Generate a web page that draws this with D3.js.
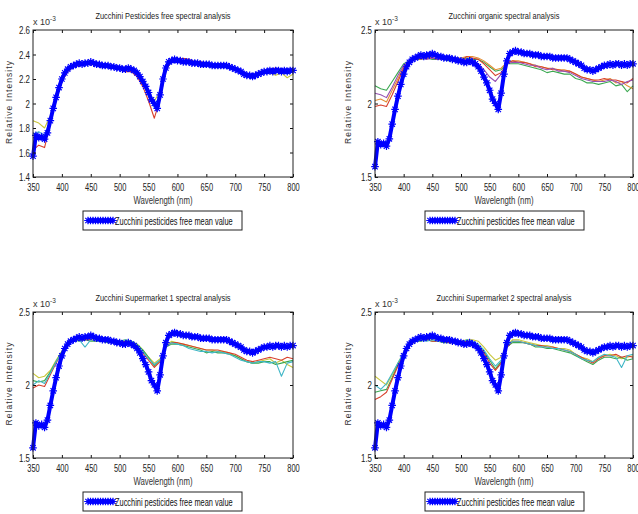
<!DOCTYPE html>
<html>
<head>
<meta charset="utf-8">
<script src="https://cdn.jsdelivr.net/npm/d3@7"></script>
<style>
body { margin: 0; background: #fff; }
svg { display: block; font-family: "Liberation Sans", Arial, sans-serif; }
</style>
</head>
<body>
<svg id="chart"></svg>
<script>
// ---- data (intensity in units of 1e-3) ----

// mean curve of the pesticides free samples (blue, every 5 nm)
var meanWl = [350,355,360,365,370,375,380,385,390,395,400,405,410,415,420,425,430,435,440,445,
              450,455,460,465,470,475,480,485,490,495,500,505,510,515,520,525,530,535,540,545,
              550,555,560,565,570,575,580,585,590,595,600,605,610,615,620,625,630,635,640,645,
              650,655,660,665,670,675,680,685,690,695,700,705,710,715,720,725,730,735,740,745,
              750,755,760,765,770,775,780,785,790,795,800];
var meanVal = [1.57,1.74,1.72,1.73,1.71,1.76,1.86,1.96,2.05,2.13,
               2.20,2.25,2.28,2.30,2.31,2.32,2.33,2.32,2.33,2.33,
               2.34,2.33,2.32,2.32,2.31,2.31,2.31,2.30,2.30,2.29,
               2.29,2.28,2.28,2.29,2.28,2.27,2.25,2.22,2.18,2.14,
               2.09,2.03,2.00,1.96,2.07,2.20,2.29,2.34,2.35,2.36,
               2.35,2.35,2.34,2.34,2.34,2.33,2.33,2.33,2.32,2.32,
               2.32,2.32,2.31,2.31,2.31,2.31,2.31,2.31,2.30,2.29,
               2.28,2.27,2.26,2.24,2.23,2.23,2.22,2.23,2.24,2.25,
               2.26,2.26,2.27,2.26,2.27,2.27,2.26,2.27,2.26,2.27,
               2.27];

// individual sample spectra (every 10 nm)
var sampleWl = [350,360,370,380,390,400,410,420,430,440,450,460,470,480,490,500,510,520,530,540,
                550,560,570,580,590,600,610,620,630,640,650,660,670,680,690,700,710,720,730,740,
                750,760,770,780,790,800];

// pesticides free
var p1Red = [1.62,1.66,1.64,1.84,2.03,2.18,2.26,2.30,2.31,2.32,2.32,2.31,2.30,2.30,2.29,2.28,2.26,2.26,2.22,2.14,
             2.02,1.88,2.04,2.27,2.35,2.36,2.37,2.36,2.34,2.34,2.33,2.32,2.32,2.32,2.31,2.29,2.27,2.24,2.23,2.25,
             2.27,2.28,2.29,2.26,2.28,2.25];
var p1Yellow = [1.86,1.84,1.80,1.90,2.07,2.21,2.28,2.31,2.31,2.32,2.33,2.31,2.30,2.31,2.30,2.28,2.28,2.28,2.25,2.18,
                2.09,2.02,2.10,2.28,2.34,2.34,2.35,2.33,2.33,2.32,2.32,2.31,2.31,2.31,2.30,2.28,2.25,2.23,2.22,2.24,
                2.26,2.25,2.23,2.25,2.21,2.24];
var p1Cyan = [1.75,1.77,1.74,1.87,2.05,2.20,2.27,2.30,2.32,2.31,2.33,2.32,2.31,2.30,2.30,2.29,2.27,2.28,2.24,2.17,
              2.06,1.97,2.08,2.28,2.34,2.35,2.34,2.34,2.33,2.33,2.31,2.32,2.30,2.31,2.30,2.28,2.26,2.22,2.23,2.24,
              2.25,2.27,2.25,2.27,2.24,2.26];

// organic
var p2Green = [2.12,2.10,2.09,2.15,2.21,2.27,2.29,2.30,2.30,2.31,2.30,2.30,2.30,2.29,2.30,2.30,2.31,2.30,2.30,2.28,
               2.25,2.22,2.23,2.27,2.27,2.27,2.26,2.25,2.24,2.23,2.21,2.22,2.21,2.20,2.20,2.17,2.16,2.14,2.14,2.13,
               2.14,2.15,2.12,2.13,2.08,2.12];
var p2Red = [1.98,1.99,1.98,2.06,2.15,2.24,2.28,2.30,2.31,2.31,2.31,2.30,2.31,2.30,2.30,2.29,2.32,2.31,2.30,2.27,
             2.23,2.19,2.21,2.27,2.29,2.28,2.28,2.27,2.25,2.25,2.24,2.23,2.23,2.22,2.22,2.20,2.18,2.17,2.16,2.16,
             2.17,2.16,2.16,2.15,2.14,2.17];
var p2Orange = [2.02,2.03,2.01,2.09,2.17,2.25,2.29,2.31,2.30,2.32,2.31,2.31,2.31,2.31,2.31,2.31,2.32,2.32,2.31,2.29,
                2.26,2.23,2.24,2.28,2.29,2.29,2.28,2.27,2.26,2.25,2.24,2.24,2.23,2.23,2.22,2.20,2.18,2.17,2.16,2.15,
                2.16,2.17,2.14,2.15,2.12,2.10];
var p2Purple = [2.07,2.06,2.04,2.11,2.19,2.26,2.29,2.31,2.31,2.30,2.31,2.30,2.30,2.30,2.29,2.29,2.30,2.29,2.27,2.23,
                2.18,2.15,2.20,2.27,2.28,2.28,2.27,2.26,2.26,2.24,2.23,2.24,2.22,2.22,2.21,2.19,2.17,2.16,2.15,2.15,
                2.15,2.16,2.15,2.13,2.15,2.16];

// supermarket 1
var p3Yellow = [2.08,2.05,2.06,2.10,2.17,2.23,2.29,2.32,2.31,2.32,2.31,2.31,2.31,2.30,2.30,2.30,2.31,2.30,2.28,2.24,
                2.19,2.15,2.18,2.27,2.30,2.29,2.28,2.27,2.26,2.25,2.24,2.24,2.23,2.23,2.22,2.20,2.18,2.16,2.15,2.16,
                2.17,2.18,2.15,2.17,2.14,2.12];
var p3Red = [1.98,2.00,1.99,2.07,2.15,2.22,2.28,2.31,2.31,2.31,2.31,2.30,2.30,2.30,2.29,2.29,2.30,2.29,2.27,2.22,
             2.17,2.12,2.16,2.26,2.29,2.29,2.28,2.27,2.26,2.25,2.24,2.24,2.24,2.23,2.22,2.21,2.19,2.17,2.16,2.17,
             2.18,2.19,2.18,2.17,2.19,2.18];
var p3Green = [2.03,2.02,2.03,2.09,2.16,2.23,2.28,2.31,2.30,2.31,2.30,2.30,2.30,2.29,2.30,2.29,2.30,2.30,2.28,2.24,
               2.19,2.13,2.17,2.26,2.28,2.28,2.27,2.26,2.25,2.24,2.22,2.23,2.22,2.22,2.21,2.20,2.18,2.16,2.15,2.15,
               2.16,2.16,2.14,2.15,2.16,2.17];
var p3Cyan = [2.00,2.03,2.01,2.08,2.16,2.22,2.28,2.31,2.31,2.26,2.31,2.30,2.30,2.30,2.29,2.30,2.31,2.30,2.27,2.23,
              2.18,2.14,2.17,2.26,2.29,2.28,2.27,2.25,2.24,2.23,2.23,2.22,2.23,2.22,2.21,2.19,2.17,2.16,2.15,2.16,
              2.16,2.15,2.16,2.06,2.15,2.16];

// supermarket 2
var p4Yellow = [2.06,2.03,2.00,2.07,2.15,2.22,2.28,2.31,2.31,2.31,2.31,2.31,2.30,2.30,2.30,2.30,2.31,2.31,2.30,2.26,
                2.21,2.17,2.19,2.27,2.31,2.31,2.30,2.29,2.28,2.27,2.27,2.26,2.25,2.25,2.24,2.21,2.19,2.18,2.16,2.19,
                2.20,2.21,2.20,2.18,2.19,2.20];
var p4Red = [1.90,1.92,1.95,2.04,2.13,2.21,2.27,2.30,2.31,2.31,2.30,2.30,2.30,2.29,2.29,2.29,2.30,2.29,2.27,2.22,
             2.15,2.10,2.15,2.26,2.30,2.30,2.29,2.28,2.27,2.27,2.26,2.26,2.25,2.24,2.23,2.21,2.19,2.17,2.15,2.18,
             2.20,2.20,2.21,2.19,2.20,2.19];
var p4Cyan = [2.00,1.97,2.01,2.08,2.15,2.22,2.28,2.30,2.31,2.30,2.31,2.30,2.30,2.30,2.29,2.29,2.31,2.30,2.28,2.24,
              2.18,2.13,2.17,2.27,2.30,2.30,2.29,2.28,2.27,2.26,2.26,2.25,2.25,2.24,2.23,2.21,2.18,2.17,2.16,2.19,
              2.21,2.20,2.19,2.12,2.20,2.21];
var p4Green = [1.95,1.96,1.97,2.05,2.14,2.21,2.27,2.30,2.30,2.31,2.30,2.30,2.29,2.29,2.29,2.28,2.29,2.29,2.27,2.23,
               2.17,2.11,2.16,2.26,2.29,2.29,2.29,2.28,2.26,2.26,2.25,2.25,2.24,2.23,2.22,2.20,2.18,2.16,2.14,2.17,
               2.19,2.19,2.18,2.19,2.17,2.18];

var titles = ["Zucchini Pesticides free spectral analysis",
              "Zucchini organic spectral analysis",
              "Zucchini Supermarket 1 spectral analysis",
              "Zucchini Supermarket 2 spectral analysis"];
var legendLabel = "Zucchini pesticides free mean value";
var xTicks = [350,400,450,500,550,600,650,700,750,800];
var yTicksFine = [1.4,1.6,1.8,2,2.2,2.4,2.6];
var yTicksCoarse = [1.5,2,2.5];

// ---- layout ----
var w = 638,
    h = 514;

var svg = d3.select("#chart")
    .attr("width", w)
    .attr("height", h);

var red = "#d8402c", yellow = "#c9c63c", cyan = "#3fb6c6",
    green = "#3aa850", orange = "#e38f35", purple = "#9650b0",
    blue = "#0000ff";

var panels = [
    { l: 33,  r: 293, t: 30,  b: 177, ylab: 12,  yDom: [1.4, 2.6], yTicks: yTicksFine,
      title: titles[0], lines: [p1Yellow, p1Cyan, p1Red], colors: [yellow, cyan, red] },
    { l: 375, r: 633, t: 30,  b: 177, ylab: 351, yDom: [1.5, 2.5], yTicks: yTicksCoarse,
      title: titles[1], lines: [p2Green, p2Orange, p2Red, p2Purple], colors: [green, orange, red, purple] },
    { l: 33,  r: 293, t: 312, b: 458, ylab: 12,  yDom: [1.5, 2.5], yTicks: yTicksCoarse,
      title: titles[2], lines: [p3Yellow, p3Green, p3Red, p3Cyan], colors: [yellow, green, red, cyan] },
    { l: 375, r: 633, t: 312, b: 458, ylab: 351, yDom: [1.5, 2.5], yTicks: yTicksCoarse,
      title: titles[3], lines: [p4Yellow, p4Green, p4Red, p4Cyan], colors: [yellow, green, red, cyan] }
];

var starPath = "M-3.8,0H3.8M0,-3.8V3.8M-2.7,-2.7L2.7,2.7M-2.7,2.7L2.7,-2.7";

// squeeze text like the original (narrow glyphs)
var squeeze = function(sel, k) {
    sel.attr("textLength", function() { return this.getComputedTextLength() * k; })
       .attr("lengthAdjust", "spacingAndGlyphs");
};

var drawPanel = function(p) {
    var g = svg.append("g");

    var xScale = d3.scaleLinear().domain([350, 800]).range([p.l, p.r]);
    var yScale = d3.scaleLinear().domain(p.yDom).range([p.b, p.t]);

    // sample spectra
    var sampleLine = d3.line()
        .x(function(d, i) { return xScale(sampleWl[i]); })
        .y(function(d) { return yScale(d); });

    p.lines.forEach(function(s, k) {
        g.append("path")
            .datum(s)
            .attr("fill", "none")
            .attr("stroke", p.colors[k])
            .attr("stroke-width", 1.1)
            .attr("stroke-linejoin", "round")
            .attr("d", sampleLine);
    });

    // mean curve with star markers
    var meanLine = d3.line()
        .x(function(d, i) { return xScale(meanWl[i]); })
        .y(function(d) { return yScale(d); });

    g.append("path")
        .datum(meanVal)
        .attr("fill", "none")
        .attr("stroke", blue)
        .attr("stroke-width", 4)
        .attr("stroke-linejoin", "round")
        .attr("d", meanLine);

    g.selectAll(".star")
        .data(meanVal)
        .enter().append("path")
        .attr("class", "star")
        .attr("transform", function(d, i) { return "translate(" + xScale(meanWl[i]) + "," + yScale(d) + ")"; })
        .attr("d", starPath)
        .attr("fill", "none")
        .attr("stroke", blue)
        .attr("stroke-width", 1.2);

    // axes, ticks pointing inward (matlab style)
    var bottom = g.append("g")
        .attr("transform", "translate(0," + p.b + ")")
        .call(d3.axisBottom(xScale).tickValues(xTicks).tickSizeInner(-3).tickSizeOuter(0).tickPadding(6));
    var top = g.append("g")
        .attr("transform", "translate(0," + p.t + ")")
        .call(d3.axisTop(xScale).tickValues(xTicks).tickSizeInner(-3).tickSizeOuter(0).tickFormat(""));
    var left = g.append("g")
        .attr("transform", "translate(" + p.l + ",0)")
        .call(d3.axisLeft(yScale).tickValues(p.yTicks).tickSizeInner(-3).tickSizeOuter(0).tickPadding(3)
              .tickFormat(function(d) { return String(+d.toFixed(1)); }));
    var right = g.append("g")
        .attr("transform", "translate(" + p.r + ",0)")
        .call(d3.axisRight(yScale).tickValues(p.yTicks).tickSizeInner(-3).tickSizeOuter(0).tickFormat(""));

    [bottom, top, left, right].forEach(function(a) {
        a.select(".domain").remove();
        a.selectAll("line").attr("stroke", "#111");
        a.selectAll("text")
            .attr("font-family", "Liberation Sans, Arial, sans-serif")
            .attr("font-size", 11)
            .attr("fill", "#222");
    });
    squeeze(bottom.selectAll("text"), 0.68);
    squeeze(left.selectAll("text"), 0.72);

    g.append("rect")
        .attr("x", p.l)
        .attr("y", p.t)
        .attr("width", p.r - p.l)
        .attr("height", p.b - p.t)
        .attr("fill", "none")
        .attr("stroke", "#222")
        .attr("stroke-width", 1);

    // x 10^-3 exponent
    var ex = g.append("text")
        .attr("x", p.l)
        .attr("y", p.t - 5)
        .attr("font-size", 9)
        .attr("fill", "#333");
    ex.append("tspan").text("x 10");
    ex.append("tspan").attr("dy", -4).attr("font-size", 6.5).text("-3");

    // title
    var tt = g.append("text")
        .attr("x", (p.l + p.r) / 2)
        .attr("y", p.t - 11)
        .attr("text-anchor", "middle")
        .attr("font-size", 9.5)
        .attr("fill", "#222")
        .text(p.title);
    squeeze(tt, 0.78);

    // axis labels
    var xl = g.append("text")
        .attr("x", (p.l + p.r) / 2)
        .attr("y", p.b + 27)
        .attr("text-anchor", "middle")
        .attr("font-size", 10)
        .attr("fill", "#333")
        .text("Wavelength (nm)");
    squeeze(xl, 0.78);

    g.append("text")
        .attr("transform", "translate(" + p.ylab + "," + ((p.t + p.b) / 2 - 1) + ") rotate(-90)")
        .attr("text-anchor", "middle")
        .attr("font-size", 8.5)
        .attr("fill", "#333")
        .attr("textLength", 83)
        .attr("lengthAdjust", "spacing")
        .text("Relative Intensity");

    // legend
    var lx = p.l + 50,
        ly = p.b + 34;
    var lg = g.append("g").attr("transform", "translate(" + lx + "," + ly + ")");
    lg.append("rect")
        .attr("width", 159)
        .attr("height", 19)
        .attr("fill", "#fff")
        .attr("stroke", "#222")
        .attr("stroke-width", 1);
    lg.append("line")
        .attr("x1", 5).attr("x2", 30)
        .attr("y1", 9.5).attr("y2", 9.5)
        .attr("stroke", blue)
        .attr("stroke-width", 4);
    lg.selectAll(".lstar")
        .data(d3.range(5, 31, 2.5))
        .enter().append("path")
        .attr("class", "lstar")
        .attr("transform", function(d) { return "translate(" + d + ",9.5)"; })
        .attr("d", starPath)
        .attr("fill", "none")
        .attr("stroke", blue)
        .attr("stroke-width", 1.2);
    var lt = lg.append("text")
        .attr("x", 32)
        .attr("y", 13.5)
        .attr("font-size", 10)
        .attr("fill", "#111")
        .text(legendLabel);
    squeeze(lt, 0.74);
};

panels.forEach(drawPanel);
</script>
</body>
</html>
